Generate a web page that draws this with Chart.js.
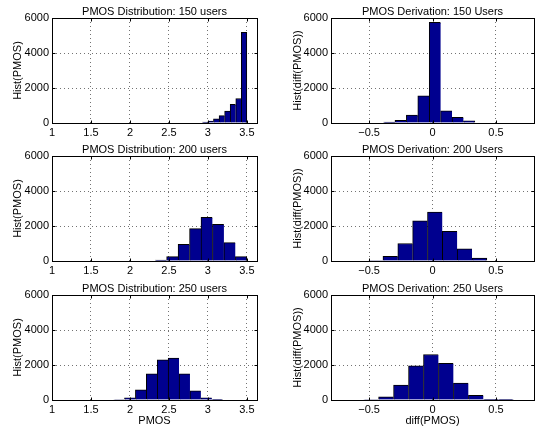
<!DOCTYPE html>
<html>
<head>
<meta charset="utf-8">
<title>PMOS histograms</title>
<script src="https://cdn.jsdelivr.net/npm/chart.js@4.4.1/dist/chart.umd.min.js"></script>
<style>
	html, body { margin: 0; padding: 0; background: #fff; }
	#page { position: relative; width: 542px; height: 430px; overflow: hidden; background: #fff; }
	canvas { position: absolute; }
</style>
</head>
<body>
<div id="page">
	<canvas id="dist150" width="271" height="138" style="left:0;top:5px"></canvas>
	<canvas id="diff150" width="271" height="138" style="left:271px;top:5px"></canvas>
	<canvas id="dist200" width="271" height="138" style="left:0;top:143px"></canvas>
	<canvas id="diff200" width="271" height="138" style="left:271px;top:143px"></canvas>
	<canvas id="dist250" width="271" height="145" style="left:0;top:282px"></canvas>
	<canvas id="diff250" width="271" height="145" style="left:271px;top:282px"></canvas>
</div>
<script>
// bin centres and counts
const pmosBins150 = [2.964, 3.036, 3.107, 3.179, 3.25, 3.321, 3.393, 3.464];
const pmosHist150 = [50, 110, 240, 420, 680, 1060, 1400, 5180];
const pmosBins200 = [2.397, 2.544, 2.691, 2.838, 2.985, 3.132, 3.279, 3.426];
const pmosHist200 = [50, 250, 950, 1850, 2500, 2100, 1050, 250];
const pmosBins250 = [1.86, 2.0, 2.14, 2.28, 2.42, 2.56, 2.70, 2.84, 2.98, 3.12];
const pmosHist250 = [30, 130, 580, 1500, 2300, 2400, 1500, 530, 120, 20];

const diffBins150 = [-0.341, -0.251, -0.161, -0.071, 0.019, 0.109, 0.199, 0.289];
const diffHist150 = [50, 150, 450, 1550, 5750, 700, 330, 130];
const diffBins200 = [-0.449, -0.332, -0.215, -0.098, 0.019, 0.136, 0.253, 0.370];
const diffHist200 = [30, 270, 1000, 2300, 2800, 1700, 700, 170];
const diffBins250 = [-0.484, -0.366, -0.248, -0.13, -0.012, 0.106, 0.224, 0.342, 0.46, 0.578];
const diffHist250 = [30, 180, 850, 1950, 2600, 2100, 970, 270, 40, 15];

const pmosTicks = [1, 1.5, 2, 2.5, 3, 3.5];
const diffTicks = [-0.5, 0, 0.5];
const countTicks = [0, 2000, 4000, 6000];

const barFill = 'rgb(0, 0, 143)';
const gridColor = 'rgba(0, 0, 0, 0.55)';
const txtFont = { size: 11, lineHeight: '13px' };

Chart.defaults.font.family = "'Liberation Sans', Arial, Helvetica, sans-serif";
Chart.defaults.font.size = 11;
Chart.defaults.color = '#000';

function tickText(v) {
	return v < 0 ? '\u2212' + (-v) : String(v);
}

// matlab style box with inward tick marks
const boxPlugin = {
	id: 'box',
	afterDatasetsDraw(chart) {
		const ctx = chart.ctx;
		const a = chart.chartArea;
		const sx = chart.scales.x;
		const sy = chart.scales.y;
		const l = Math.round(a.left) + 0.5;
		const r = Math.round(a.right) + 0.5;
		const t = Math.round(a.top) + 0.5;
		const b = Math.round(a.bottom) + 0.5;
		ctx.save();
		ctx.strokeStyle = '#000';
		ctx.lineWidth = 1;
		ctx.beginPath();
		sx.ticks.forEach(function (tk) {
			const px = Math.round(sx.getPixelForValue(tk.value)) + 0.5;
			ctx.moveTo(px, b); ctx.lineTo(px, b - 3);
			ctx.moveTo(px, t); ctx.lineTo(px, t + 3);
		});
		sy.ticks.forEach(function (tk) {
			const py = Math.round(sy.getPixelForValue(tk.value)) + 0.5;
			ctx.moveTo(l, py); ctx.lineTo(l + 3, py);
			ctx.moveTo(r, py); ctx.lineTo(r - 3, py);
		});
		ctx.stroke();
		ctx.strokeRect(l, t, r - l, b - t);
		ctx.restore();
	}
};

function histChart(id, opt) {
	const ctx = document.getElementById(id).getContext('2d');
	const last = opt.bins.length - 1;
	return new Chart(ctx, {
		type: 'bar',
		data: {
			datasets: [{
				data: opt.bins.map(function (b, i) { return { x: b, y: opt.counts[i] }; }),
				backgroundColor: barFill,
				borderColor: '#000',
				borderWidth: function (c) {
					return { left: 1, top: 1, bottom: 0, right: c.dataIndex === last ? 1 : 0 };
				},
				borderSkipped: false,
				barPercentage: 1,
				categoryPercentage: 1
			}]
		},
		options: {
			responsive: false,
			animation: false,
			events: [],
			layout: { padding: { left: 0, right: opt.padRight, top: 0, bottom: 0 } },
			plugins: {
				legend: { display: false },
				tooltip: { enabled: false },
				title: {
					display: true,
					text: opt.title,
					fullSize: false,
					padding: 0,
					color: '#000',
					font: { size: 11, weight: 'normal', lineHeight: '13px' }
				}
			},
			scales: {
				x: {
					type: 'linear',
					min: opt.xMin,
					max: opt.xMax,
					offset: false,
					afterBuildTicks: function (s) { s.ticks = opt.xTicks.map(function (v) { return { value: v }; }); },
					afterFit: function (s) { s.height = opt.xLabel ? 27 : 20; },
					grid: { offset: false, drawTicks: false, color: gridColor, lineWidth: 1 },
					border: { display: false, dash: [1, 3] },
					ticks: { autoSkip: false, maxRotation: 0, minRotation: 0, padding: 3, font: txtFont, callback: tickText },
					title: { display: !!opt.xLabel, text: opt.xLabel || '', padding: 0, font: txtFont }
				},
				y: {
					min: 0,
					max: 6000,
					afterBuildTicks: function (s) { s.ticks = countTicks.map(function (v) { return { value: v }; }); },
					afterFit: function (s) { s.width = opt.yWidth; },
					grid: { drawTicks: false, color: gridColor, lineWidth: 1 },
					border: { display: false, dash: [1, 3] },
					ticks: { padding: 3, font: txtFont, callback: tickText },
					title: { display: true, text: opt.yLabel, padding: { top: opt.yTitlePad, bottom: 0 }, font: txtFont }
				}
			}
		},
		plugins: [boxPlugin]
	});
}

const left = { xMin: 1, xMax: 3.63, xTicks: pmosTicks, yWidth: 52, padRight: 14, yTitlePad: 11, yLabel: 'Hist(PMOS)' };
const right = { xMin: -0.8, xMax: 0.8, xTicks: diffTicks, yWidth: 60, padRight: 8, yTitlePad: 20, yLabel: 'Hist(diff(PMOS))' };

histChart('dist150', Object.assign({}, left, { title: 'PMOS Distribution: 150 users', bins: pmosBins150, counts: pmosHist150 }));
histChart('diff150', Object.assign({}, right, { title: 'PMOS Derivation: 150 Users', bins: diffBins150, counts: diffHist150 }));
histChart('dist200', Object.assign({}, left, { title: 'PMOS Distribution: 200 users', bins: pmosBins200, counts: pmosHist200 }));
histChart('diff200', Object.assign({}, right, { title: 'PMOS Derivation: 200 Users', bins: diffBins200, counts: diffHist200 }));
histChart('dist250', Object.assign({}, left, { title: 'PMOS Distribution: 250 users', bins: pmosBins250, counts: pmosHist250, xLabel: 'PMOS' }));
histChart('diff250', Object.assign({}, right, { title: 'PMOS Derivation: 250 Users', bins: diffBins250, counts: diffHist250, xLabel: 'diff(PMOS)' }));
</script>
</body>
</html>
